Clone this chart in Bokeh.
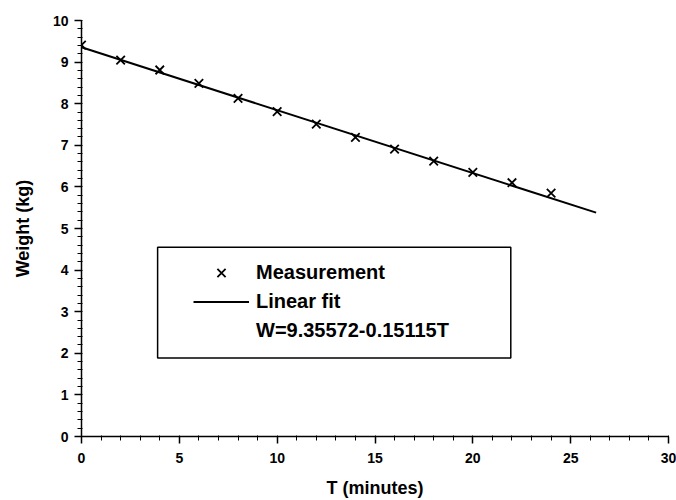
from bokeh.plotting import figure
from bokeh.models import (Legend, LegendItem, BoxAnnotation, Range1d,
                          FixedTicker)
from bokeh.embed import file_html
from bokeh.resources import INLINE

# ---- data ----
t_minutes = [0, 2, 4, 6, 8, 10, 12, 14, 16, 18, 20, 22, 24]
weight_kg = [9.41, 9.05, 8.81, 8.49, 8.13, 7.81, 7.51, 7.19, 6.91, 6.62, 6.35, 6.10, 5.85]
fit_intercept = 9.35572
fit_slope = -0.15115
fit_t = [0, 26.3]
fit_w = [fit_intercept + fit_slope * t for t in fit_t]
x_ticks = [0, 5, 10, 15, 20, 25, 30]
x_minor = list(range(0, 31))
y_ticks = [0, 1, 2, 3, 4, 5, 6, 7, 8, 9, 10]
y_minor = [i / 5 for i in range(0, 51)]
eq_label = "W=9.35572-0.15115T"

FONT = "Liberation Sans"

p = figure(width=676, height=500, output_backend="svg", toolbar_location=None,
           x_range=Range1d(0, 30), y_range=Range1d(0, 10),
           min_border_left=81, min_border_right=8, min_border_top=20,
           min_border_bottom=63)
p.outline_line_color = None
p.xgrid.visible = False
p.ygrid.visible = False
p.background_fill_color = "white"
p.border_fill_color = "white"

fit_r = p.line(fit_t, fit_w, line_color="black", line_width=2)
meas_r = p.scatter(t_minutes, weight_kg, marker="x", size=12,
                   line_color="black", line_width=1.8)
dummy = p.scatter(x=[], y=[], marker="x", alpha=0)

for ax, ticks, minor in ((p.xaxis[0], x_ticks, x_minor), (p.yaxis[0], y_ticks, y_minor)):
    ax.ticker = FixedTicker(ticks=ticks, minor_ticks=minor)
    ax.axis_line_color = "black"
    ax.axis_line_width = 1.5
    ax.major_tick_line_color = "black"
    ax.major_tick_line_width = 1.5
    ax.minor_tick_line_color = "black"
    ax.major_tick_out = 7
    ax.major_tick_in = 0
    ax.minor_tick_out = 4
    ax.minor_tick_in = 1
    ax.major_label_text_font = FONT
    ax.major_label_text_font_style = "bold"
    ax.major_label_text_font_size = "14px"
    ax.major_label_text_color = "black"
    ax.axis_label_text_font = FONT
    ax.axis_label_text_font_style = "bold"
    ax.axis_label_text_font_size = "18px"
    ax.axis_label_text_color = "black"

p.xaxis.axis_label = "T (minutes)"
p.yaxis.axis_label = "Weight (kg)"
p.xaxis.major_label_standoff = 9
p.xaxis.axis_label_standoff = 12
p.yaxis.major_label_standoff = 6
p.yaxis.axis_label_standoff = 17

box = BoxAnnotation(left=3.89, right=21.94, bottom=1.89, top=4.55,
                    fill_color="white", fill_alpha=1.0,
                    line_color="black", line_alpha=1.0, line_width=1.5,
                    level="annotation")
p.add_layout(box)

legend = Legend(items=[LegendItem(label="Measurement", renderers=[meas_r]),
                       LegendItem(label="Linear fit", renderers=[fit_r]),
                       LegendItem(label=eq_label, renderers=[dummy])],
                location=(112, 91), orientation="vertical",
                padding=0, margin=0, spacing=0,
                glyph_width=56, glyph_height=29, label_height=29,
                label_standoff=7,
                label_text_font=FONT, label_text_font_style="bold",
                label_text_font_size="20px", label_text_color="black",
                border_line_color=None, background_fill_alpha=0)
p.add_layout(legend, "center")

open("out.html", "w").write(file_html(p, INLINE))
